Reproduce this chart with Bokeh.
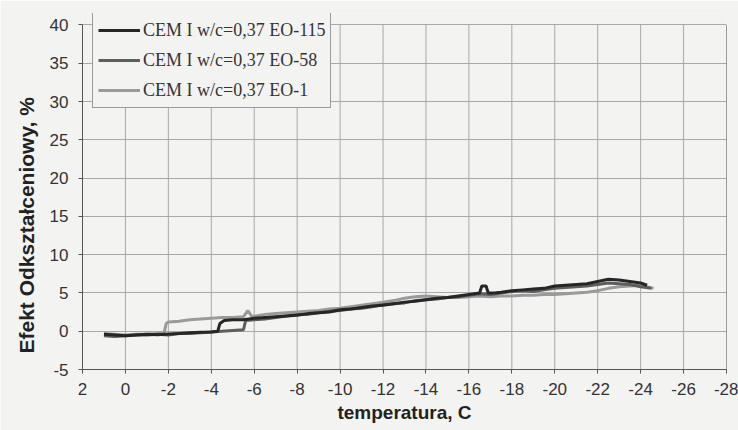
from bokeh.plotting import figure
from bokeh.models import Range1d, FixedTicker, Legend, LegendItem, Title
from bokeh.embed import file_html
from bokeh.resources import INLINE

# ---- data ----
t_eo115 = [1.0, 0.5, 0.0, -0.5, -1.0, -1.5, -2.0, -2.5, -3.0, -3.5, -4.0, -4.3, -4.4, -4.6,
           -5.0, -5.5, -6.0, -6.5, -7.0, -7.5, -8.0, -8.5, -9.0, -9.5, -10.0, -10.5, -11.0,
           -11.5, -12.0, -12.5, -13.0, -13.5, -14.0, -14.5, -15.0, -15.5, -16.0, -16.5, -16.6,
           -16.8, -16.9, -17.2, -17.5, -18.0, -18.5, -19.0, -19.5, -20.0, -20.5, -21.0, -21.5,
           -22.0, -22.5, -23.0, -23.5, -24.0, -24.3]
v_eo115 = [-0.4, -0.5, -0.6, -0.5, -0.4, -0.45, -0.35, -0.3, -0.2, -0.15, -0.1, 0.0, 1.0, 1.4,
           1.5, 1.5, 1.7, 1.8, 1.9, 2.0, 2.1, 2.3, 2.4, 2.5, 2.8, 2.9, 3.1,
           3.3, 3.4, 3.6, 3.8, 3.9, 4.1, 4.3, 4.4, 4.6, 4.8, 5.0, 5.9,
           5.9, 5.0, 5.0, 5.1, 5.3, 5.4, 5.5, 5.6, 5.9, 6.0, 6.1, 6.2,
           6.5, 6.8, 6.7, 6.5, 6.3, 6.0]

t_eo58 = [1.0, 0.5, 0.0, -0.5, -1.0, -1.5, -2.0, -2.5, -3.0, -3.5, -4.0, -4.5, -5.0, -5.5,
          -5.6, -6.0, -6.5, -7.0, -7.5, -8.0, -8.5, -9.0, -9.5, -10.0, -10.5, -11.0, -11.5,
          -12.0, -12.5, -13.0, -13.5, -14.0, -14.5, -15.0, -15.5, -16.0, -16.5, -17.0, -17.5,
          -18.0, -18.5, -19.0, -19.5, -20.0, -20.5, -21.0, -21.5, -22.0, -22.5, -23.0, -23.5,
          -24.0, -24.5]
v_eo58 = [-0.6, -0.7, -0.6, -0.5, -0.5, -0.4, -0.5, -0.3, -0.3, -0.2, -0.1, 0.0, 0.1, 0.2,
          1.4, 1.5, 1.6, 1.8, 2.0, 2.2, 2.2, 2.4, 2.6, 2.7, 2.9, 3.0, 3.2,
          3.5, 3.6, 3.7, 4.0, 4.1, 4.2, 4.4, 4.5, 4.7, 4.9, 4.8, 5.0,
          5.2, 5.3, 5.2, 5.4, 5.6, 5.7, 5.8, 5.9, 6.1, 6.3, 6.2, 6.1,
          5.8, 5.6]

t_eo1 = [1.0, 0.5, 0.0, -0.5, -1.0, -1.5, -1.8, -1.9, -2.0, -2.5, -3.0, -3.5, -4.0, -4.5,
         -5.0, -5.5, -5.7, -5.9, -6.5, -7.0, -7.5, -8.0, -8.5, -9.0, -9.5, -10.0, -10.5,
         -11.0, -11.5, -12.0, -12.5, -13.0, -13.5, -14.0, -14.5, -15.0, -15.5, -16.0, -16.5,
         -17.0, -17.5, -18.0, -18.5, -19.0, -19.5, -20.0, -20.5, -21.0, -21.5, -22.0, -22.5,
         -23.0, -23.5, -24.0, -24.6]
v_eo1 = [-0.3, -0.4, -0.5, -0.4, -0.4, -0.3, -0.2, 1.0, 1.2, 1.3, 1.5, 1.6, 1.7, 1.8,
         1.8, 1.9, 2.7, 1.9, 2.2, 2.3, 2.4, 2.5, 2.6, 2.7, 2.9, 3.0, 3.2,
         3.4, 3.6, 3.8, 4.0, 4.3, 4.5, 4.6, 4.5, 4.4, 4.4, 4.5, 4.6,
         4.5, 4.6, 4.6, 4.7, 4.7, 4.8, 4.8, 4.9, 5.0, 5.1, 5.3, 5.6,
         5.8, 5.9, 6.0, 5.6]

series_names = ["CEM I w/c=0,37 EO-115", "CEM I w/c=0,37 EO-58", "CEM I w/c=0,37 EO-1"]
x_ticks = [2, 0, -2, -4, -6, -8, -10, -12, -14, -16, -18, -20, -22, -24, -26, -28]
x_tick_labels = ["2", "0", "-2", "-4", "-6", "-8", "-10", "-12", "-14", "-16", "-18",
                 "-20", "-22", "-24", "-26", "-28"]
y_ticks = [-5, 0, 5, 10, 15, 20, 25, 30, 35, 40]
y_tick_labels = ["-5", "0", "5", "10", "15", "20", "25", "30", "35", "40"]
x_title = "temperatura, C"
y_title = "Efekt Odkształceniowy, %"

BG = "#f3f3f1"
GRID = "#a8a8a8"

y_lo, y_hi = y_ticks[0], y_ticks[-1]

# y range reaches a little above 40 so that the legend (which overlaps the top edge
# of the plot area in the reference) is not clipped
p = figure(width=738, height=430, output_backend="svg", toolbar_location=None,
           x_range=Range1d(x_ticks[0], x_ticks[-1]), y_range=Range1d(y_lo, 41.5),
           min_border_left=82, min_border_right=12, min_border_top=13, min_border_bottom=61)
p.background_fill_color = BG
p.border_fill_color = BG
p.outline_line_color = None

p.xaxis.ticker = FixedTicker(ticks=x_ticks)
p.yaxis.ticker = FixedTicker(ticks=y_ticks)
p.xaxis.major_label_overrides = {t: s for t, s in zip(x_ticks, x_tick_labels)}
p.yaxis.major_label_overrides = {t: s for t, s in zip(y_ticks, y_tick_labels)}
p.yaxis.bounds = (y_lo, y_hi)

for ax in (p.xaxis, p.yaxis):
    ax.axis_line_color = "#555555"
    ax.axis_line_width = 1
    ax.major_tick_line_color = "#555555"
    ax.major_tick_out = 4
    ax.major_tick_in = 0
    ax.minor_tick_line_color = None
    ax.major_label_text_font = "Liberation Sans"
    ax.major_label_text_font_size = "17px"
    ax.major_label_text_color = "#333333"
    ax.axis_label_text_font = "Liberation Sans"
    ax.axis_label_text_font_style = "bold"
    ax.axis_label_text_color = "#222222"

p.xaxis.major_label_standoff = 9
p.yaxis.major_label_standoff = 10
p.xaxis.axis_label = x_title
p.xaxis.axis_label_text_font_size = "19px"
p.xaxis.axis_label_standoff = 4

# vertical y title, placed a bit below the centre as in the reference
ytitle = Title(text=y_title, align="left", offset=16, standoff=17,
               text_font="Liberation Sans", text_font_style="bold",
               text_font_size="21px", text_color="#222222")
p.add_layout(ytitle, "left")

# horizontal grid from the library; vertical grid lines drawn only up to 40
p.ygrid.grid_line_color = GRID
p.ygrid.grid_line_width = 1
p.xgrid.grid_line_color = None
p.segment(x0=x_ticks, y0=[y_lo] * len(x_ticks), x1=x_ticks, y1=[y_hi] * len(x_ticks),
          line_color=GRID, line_width=1)
# right border of the plot area
p.segment(x0=[x_ticks[-1]], y0=[y_lo], x1=[x_ticks[-1]], y1=[y_hi],
          line_color="#666666", line_width=1)

r1 = p.line(t_eo1, v_eo1, line_color="#9a9a9a", line_width=3)
r58 = p.line(t_eo58, v_eo58, line_color="#5e5e5e", line_width=3)
r115 = p.line(t_eo115, v_eo115, line_color="#262626", line_width=3)

legend = Legend(items=[LegendItem(label=series_names[0], renderers=[r115]),
                       LegendItem(label=series_names[1], renderers=[r58]),
                       LegendItem(label=series_names[2], renderers=[r1])],
                location=(10, 261))
legend.label_text_font = "Liberation Serif"
legend.label_text_font_size = "18px"
legend.label_text_color = "#333333"
legend.glyph_width = 42
legend.glyph_height = 24
legend.label_height = 24
legend.label_standoff = 3
legend.spacing = 6
legend.padding = 5
legend.margin = 0
legend.border_line_color = "#444444"
legend.border_line_width = 1
legend.background_fill_color = BG
legend.background_fill_alpha = 1.0
p.add_layout(legend)

open("out.html", "w").write(file_html(p, INLINE))
